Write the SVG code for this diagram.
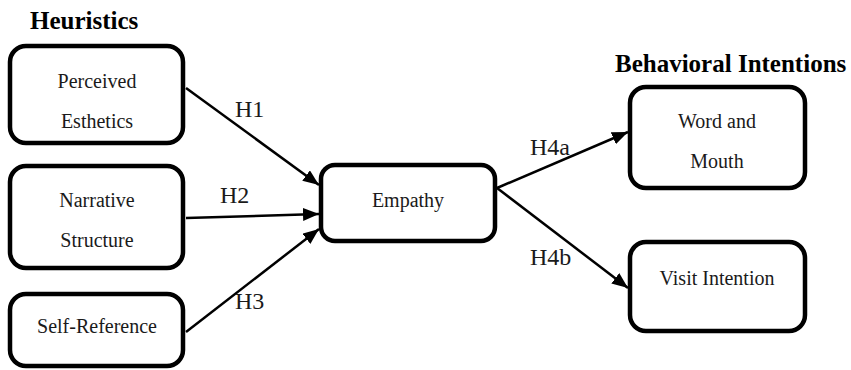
<svg xmlns="http://www.w3.org/2000/svg" width="851" height="370" viewBox="0 0 851 370">
<defs>
<style>
.box{fill:#fff;stroke:#000;stroke-width:4.5}
.t{font-family:"Liberation Serif","Times New Roman",serif;font-size:20px;fill:#1a1a1a;text-anchor:middle}
.h{font-family:"Liberation Serif","Times New Roman",serif;font-size:24px;fill:#1a1a1a}
.title{font-family:"Liberation Serif","Times New Roman",serif;font-size:25px;font-weight:bold;fill:#000}
.edge{stroke:#000;stroke-width:2.5;fill:none;marker-end:url(#arr)}
</style>
<marker id="arr" markerUnits="userSpaceOnUse" markerWidth="18" markerHeight="14" refX="16" refY="6.5" orient="auto">
<path d="M0,0 L16,6.5 L0,13 z" fill="#000"/>
</marker>
</defs>
<rect width="851" height="370" fill="#fff"/>
<text class="title" x="30" y="29">Heuristics</text>
<text class="title" x="615" y="72">Behavioral Intentions</text>
<g id="connectors">
<line class="edge" x1="186" y1="88" x2="319" y2="185"/>
<line class="edge" x1="186" y1="218" x2="319" y2="214"/>
<line class="edge" x1="186" y1="332" x2="319" y2="229"/>
<line class="edge" x1="497" y1="188" x2="628" y2="132"/>
<line class="edge" x1="497" y1="188" x2="628" y2="288"/>
<text class="h" x="235" y="117">H1</text>
<text class="h" x="220" y="203">H2</text>
<text class="h" x="235" y="309">H3</text>
<text class="h" x="530" y="155">H4a</text>
<text class="h" x="530" y="265">H4b</text>
</g>
<g id="perceived">
<rect class="box" x="10" y="46" width="173" height="97" rx="16"/>
<text class="t" x="97" y="88">Perceived</text>
<text class="t" x="97" y="128">Esthetics</text>
</g>
<g id="narrative">
<rect class="box" x="10" y="166" width="173" height="102" rx="16"/>
<text class="t" x="97" y="207">Narrative</text>
<text class="t" x="97" y="247">Structure</text>
</g>
<g id="selfref">
<rect class="box" x="10" y="294" width="173" height="72" rx="16"/>
<text class="t" x="97" y="333">Self-Reference</text>
</g>
<g id="empathy">
<rect class="box" x="321" y="165" width="174" height="76" rx="14"/>
<text class="t" x="408" y="207">Empathy</text>
</g>
<g id="wom">
<rect class="box" x="630" y="87" width="175" height="101" rx="16"/>
<text class="t" x="717" y="128">Word and</text>
<text class="t" x="717" y="168">Mouth</text>
</g>
<g id="visit">
<rect class="box" x="630" y="242" width="175" height="89" rx="16"/>
<text class="t" x="717" y="285">Visit Intention</text>
</g>
</svg>
